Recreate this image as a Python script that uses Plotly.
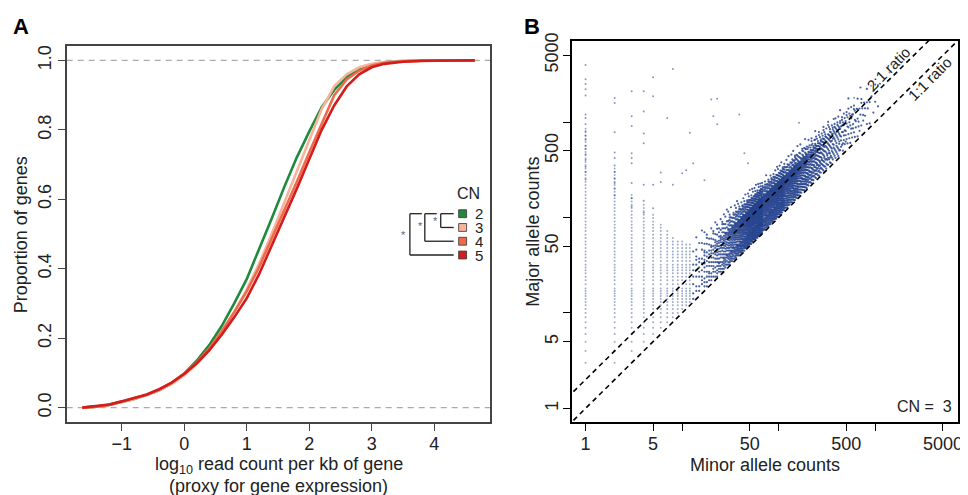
import numpy as np
import plotly.graph_objects as go

FONT = "Liberation Sans, Arial, sans-serif"
W, H = 968, 495
OFF = 8                       # the page body keeps an 8px margin
FW, FH = W - OFF, H - OFF

# ---- panel A: cumulative proportion of genes vs expression, per copy number ----
expr_x = [-1.63, -1.4, -1.2, -1.0, -0.8, -0.6, -0.4, -0.2, 0.0, 0.2, 0.4, 0.6,
          0.8, 1.0, 1.2, 1.4, 1.6, 1.8, 2.0, 2.2, 2.4, 2.6, 2.8, 3.0, 3.2,
          3.5, 3.8, 4.2, 4.65]
cdf_cn2 = [0.0, 0.003, 0.008, 0.016, 0.025, 0.036, 0.05, 0.07, 0.098, 0.135,
           0.18, 0.235, 0.30, 0.37, 0.455, 0.545, 0.635, 0.72, 0.795, 0.865,
           0.915, 0.952, 0.975, 0.988, 0.994, 0.998, 0.999, 1.0, 1.0]
cdf_cn3 = [0.0, 0.003, 0.008, 0.016, 0.025, 0.036, 0.05, 0.068, 0.093, 0.125,
           0.165, 0.215, 0.275, 0.34, 0.415, 0.50, 0.59, 0.68, 0.77, 0.86,
           0.925, 0.96, 0.98, 0.99, 0.995, 0.998, 0.999, 1.0, 1.0]
cdf_cn4 = [0.0, 0.003, 0.008, 0.017, 0.026, 0.037, 0.052, 0.072, 0.098, 0.13,
           0.17, 0.22, 0.275, 0.335, 0.405, 0.485, 0.565, 0.65, 0.735, 0.82,
           0.90, 0.945, 0.97, 0.985, 0.993, 0.997, 0.999, 1.0, 1.0]
cdf_cn5 = [0.0, 0.004, 0.009, 0.018, 0.027, 0.038, 0.053, 0.072, 0.097, 0.128,
           0.165, 0.21, 0.26, 0.315, 0.385, 0.465, 0.545, 0.63, 0.715, 0.80,
           0.87, 0.925, 0.96, 0.98, 0.99, 0.996, 0.999, 1.0, 1.0]
cn_labels = ["2", "3", "4", "5"]
cn_colors = ["#1f8a3d", "#f6b49a", "#ef6a4c", "#d21d1d"]

# ---- panel B: allele counts (CN = 3) ----
# low minor counts: one column of major counts each
col_minor = [1, 2, 3, 4, 5, 6, 7, 8, 9, 10, 11, 12]
col_major_lo = [3, 3, 4, 5, 6, 7, 8, 9, 10, 11, 12, 13]
col_major_hi = [900, 350, 180, 140, 110, 90, 75, 65, 60, 56, 54, 52]

# main cloud: edges of the band and points per column read along it
band_minor = [13, 20, 30, 50, 80, 130, 200, 320, 500, 800, 1100]
band_lo = [14, 21, 31, 51, 82, 134, 208, 335, 530, 860, 1200]
band_core_lo = [19, 28, 42, 70, 114, 186, 290, 465, 740, 1200, 1700]
band_core_hi = [34, 50, 74, 122, 195, 310, 480, 760, 1180, 1850, 2500]
band_hi = [48, 68, 98, 155, 245, 385, 590, 920, 1420, 2200, 2900]
band_far = [62, 88, 125, 195, 300, 470, 720, 1120, 1700, 2600, 3400]
band_n_low = [2, 3, 5, 8, 8, 6, 4.5, 2.5, 1.2, 0.4, 0.12]
band_n_core = [4, 6, 10, 16, 16, 13, 8, 4, 2, 0.7, 0.25]
band_n_high = [1.5, 2, 3, 4, 3.5, 2.5, 1.4, 0.8, 0.4, 0.15, 0.06]
band_n_far = [0.6, 0.8, 0.9, 0.8, 0.6, 0.45, 0.3, 0.18, 0.1, 0.05, 0.03]

# scattered points away from the cloud
sparse_minor = [1, 1, 1, 1, 1, 1, 1, 1, 1, 1, 1, 1, 1, 1, 1, 1, 1, 1,
                2, 2, 2, 2, 2, 2, 2, 2, 2, 2, 2,
                3, 3, 3, 3, 3, 3, 3, 3, 3,
                4, 4, 4, 4, 4, 4, 4, 5, 5, 5, 5,
                6, 6, 7, 8, 8, 10, 11, 12, 13, 17, 20, 21, 23, 23,
                39, 44, 48, 162, 600, 900, 1400]
sparse_major = [250, 300, 340, 400, 460, 520, 560, 650, 720, 800, 950, 1100,
                1200, 1900, 2200, 2500, 2800, 3950,
                170, 200, 230, 255, 300, 350, 420, 480, 780, 1580, 1780,
                130, 160, 230, 370, 420, 470, 910, 1150, 2100,
                112, 150, 220, 600, 760, 1290, 2100, 125, 220, 1860, 2950,
                235, 295, 1100, 220, 3600, 290, 312, 770, 370, 245, 1720, 1150,
                950, 1750, 1200, 470, 370, 980, 1800, 2400, 3300]

ratio_lines = [2, 1]
ratio_names = ["2:1 ratio", "1:1 ratio"]


def px(x):
    return (x - OFF) / FW


def py(y):
    return 1 - (y - OFF) / FH


fig = go.Figure()

for lab, col, ys in zip(cn_labels, cn_colors, [cdf_cn2, cdf_cn3, cdf_cn4, cdf_cn5]):
    fig.add_trace(go.Scatter(x=expr_x, y=ys, mode="lines", name="CN " + lab,
                             line=dict(color=col, width=2.6),
                             xaxis="x", yaxis="y"))

# columns: integer majors, thinned once they crowd together on the log axis
cx, cy = [], []
for m, lo, hi in zip(col_minor, col_major_lo, col_major_hi):
    M = lo
    while M <= hi:
        cx.append(m)
        cy.append(M)
        M += max(1, int(round(M / 12)))

# band: walk the minor counts, roughly one column per pixel
lm = np.log10(band_minor)
edges_log = [np.log10(a) for a in (band_lo, band_core_lo, band_core_hi, band_hi, band_far)]
counts = [band_n_low, band_n_core, band_n_high, band_n_far]
acc = [0.0] * len(counts)
bx, by = [], []
m = band_minor[0]
k_col = 0
while m <= band_minor[-1]:
    t = np.log10(m)
    e = [10 ** np.interp(t, lm, el) for el in edges_log]
    for s in range(len(counts)):
        acc[s] += np.interp(t, lm, counts[s])
        k = int(acc[s])
        acc[s] -= k
        a, b = e[s], e[s + 1]
        if k == 0:
            continue
        if k >= b - a:
            majors = range(int(np.ceil(a)), int(np.ceil(b)))
        else:
            ph = (k_col * 0.618034 + s * 0.37) % 1
            majors = [int(round(a + (j + ph) / k * (b - a))) for j in range(k)]
        for M in majors:
            bx.append(m)
            by.append(M)
    k_col += 1
    m += max(1, int(round(m / 45)))

dot_col = "#27448f"
fig.add_trace(go.Scatter(x=cx, y=cy, mode="markers", xaxis="x2", yaxis="y2",
                         marker=dict(size=2, color=dot_col, opacity=0.45),
                         hoverinfo="skip"))
fig.add_trace(go.Scatter(x=bx, y=by, mode="markers", xaxis="x2", yaxis="y2",
                         marker=dict(size=2.2, color=dot_col, opacity=0.85),
                         hoverinfo="skip"))
fig.add_trace(go.Scatter(x=sparse_minor, y=sparse_major, mode="markers",
                         xaxis="x2", yaxis="y2",
                         marker=dict(size=2, color=dot_col, opacity=0.55),
                         hoverinfo="skip"))

for r in ratio_lines:
    fig.add_trace(go.Scatter(x=[0.3, 20000], y=[0.3 * r, 20000 * r], mode="lines",
                             xaxis="x2", yaxis="y2", hoverinfo="skip",
                             line=dict(color="black", width=1.6, dash="5px,4px")))

tick_font = dict(family=FONT, size=18, color="#222")
common = dict(showgrid=False, zeroline=False, showline=True, mirror=True,
              ticks="outside", ticklen=7, tickwidth=1.2, tickfont=tick_font)

fig.update_layout(
    width=FW, height=FH, margin=dict(l=0, r=0, t=0, b=0),
    paper_bgcolor="white", plot_bgcolor="white", showlegend=False,
    xaxis=dict(domain=[px(67), px(493)], range=[-1.88, 4.9],
               tickvals=[-1, 0, 1, 2, 3, 4],
               ticktext=["\u22121", "0", "1", "2", "3", "4"],
               linecolor="#444", linewidth=1.6, tickcolor="#444",
               anchor="y", ticklabelstandoff=-3, **common),
    yaxis=dict(domain=[py(421), py(39)], range=[-0.042, 1.04],
               tickvals=[0, 0.2, 0.4, 0.6, 0.8, 1.0],
               ticktext=["0.0", "0.2", "0.4", "0.6", "0.8", "1.0"],
               tickangle=-90, linecolor="#444", linewidth=1.6, tickcolor="#444",
               anchor="x", ticklabelstandoff=0, **common),
    xaxis2=dict(domain=[px(575), px(963)], type="log", range=[-0.14, 3.855],
                tickvals=[1, 5, 10, 50, 100, 500, 1000, 5000],
                ticktext=["1", "5", " ", "50", " ", "500", " ", "5000"],
                linecolor="black", linewidth=1.5, tickcolor="black",
                anchor="y2", ticklabelstandoff=-3, **common),
    yaxis2=dict(domain=[py(421), py(33)], type="log", range=[-0.145, 3.853],
                tickvals=[1, 5, 10, 50, 100, 500, 1000, 5000],
                ticktext=["1", "5", " ", "50", " ", "500", " ", "5000"],
                tickangle=-90, linecolor="black", linewidth=1.5, tickcolor="black",
                anchor="x2", ticklabelstandoff=-2, **common),
)

shapes = []
for yv in [0, 1]:
    shapes.append(dict(type="line", xref="x domain", yref="y", x0=0, x1=1,
                       y0=yv, y1=yv, line=dict(color="#aaaaaa", width=1.2, dash="6px,5px"),
                       layer="below"))

# legend squares for copy number
sq_y = [209, 223, 237, 251]
for col, yc in zip(cn_colors, sq_y):
    shapes.append(dict(type="rect", xref="paper", yref="paper",
                       x0=px(461), x1=px(469), y0=py(yc + 4), y1=py(yc - 4),
                       fillcolor=col, line=dict(color="#333", width=0.8)))

# dendrogram beside the legend
segs = [
    (412, 209, 412, 251), (412, 209, 424, 209), (412, 251, 456, 251),
    (427, 209, 427, 237), (427, 209, 439, 209), (427, 237, 456, 237),
    (443, 209, 443, 223), (443, 209, 456, 209), (443, 223, 456, 223),
]
for x0, y0, x1, y1 in segs:
    shapes.append(dict(type="line", xref="paper", yref="paper",
                       x0=px(x0), y0=py(y0), x1=px(x1), y1=py(y1),
                       line=dict(color="#222", width=1.3)))

fig.update_layout(shapes=shapes)


def note(text, x, y, size=17, angle=0, bold=False, color="#222", xanchor="center"):
    fig.add_annotation(text="<b>%s</b>" % text if bold else text,
                       x=px(x), y=py(y), xref="paper", yref="paper",
                       showarrow=False, textangle=angle, xanchor=xanchor,
                       yanchor="middle", borderpad=0,
                       font=dict(family=FONT, size=size, color=color))


note("A", 21, 19, size=22, bold=True, color="black")
note("B", 535, 19, size=22, bold=True, color="black")
note("log<sub>10</sub> read count per kb of gene", 280, 465, size=18)
note("(proxy for gene expression)", 280, 486, size=18)
note("Proportion of genes", 21, 230, angle=-90, size=18)
note("Minor allele counts", 769, 464, size=18)
note("Major allele counts", 536, 227, angle=-90, size=18)

note("CN", 471, 188, size=16)
for lab, yc in zip(cn_labels, sq_y):
    note(lab, 481, yc, size=15)
for xs, ys in [(406, 231), (423, 222), (438, 216)]:
    note("*", xs, ys, size=11, color="#666")

note(ratio_names[0], 893, 61, size=15, angle=-45)
note(ratio_names[1], 935, 72, size=15, angle=-45)
note("CN =  3", 958, 405, size=16, xanchor="right")

fig.write_html("out.html")
